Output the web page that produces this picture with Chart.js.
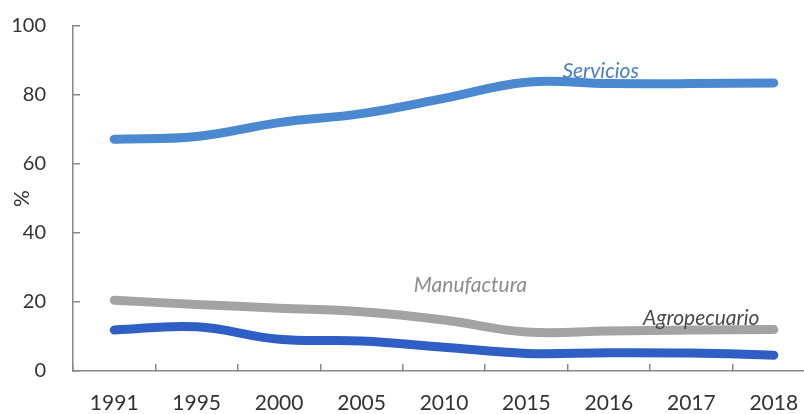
<!DOCTYPE html>
<html>
<head>
<meta charset="utf-8">
<script src="https://cdn.jsdelivr.net/npm/chart.js@4"></script>
<style>
  html, body { margin: 0; padding: 0; background: #ffffff; width: 804px; height: 414px; overflow: hidden; }
  canvas { display: block; }
</style>
</head>
<body>
<canvas id="c" width="820" height="414"></canvas>
<script>
const years = ['1991', '1995', '2000', '2005', '2010', '2015', '2016', '2017', '2018'];
const servicios = [67.2, 68.0, 72.0, 74.6, 79.0, 83.7, 83.3, 83.3, 83.5];
const manufactura = [20.5, 19.3, 18.2, 17.2, 14.8, 11.3, 11.6, 11.9, 12.0];
const agropecuario = [11.9, 12.8, 9.2, 8.7, 6.9, 5.1, 5.3, 5.2, 4.6];
const yTicks = [0, 20, 40, 60, 80, 100];
const seriesLabels = [
  { text: 'Servicios', x: 5.9, y: 87.0, color: '#4a7ebd' },
  { text: 'Manufactura', x: 4.32, y: 25.0, color: '#8c8c8c' },
  { text: 'Agropecuario', x: 7.12, y: 15.3, color: '#4a4a4a' }
];

const labelPlugin = {
  id: 'seriesLabels',
  afterDatasetsDraw(chart) {
    const ctx = chart.ctx;
    const xs = chart.scales.x, ys = chart.scales.y;
    ctx.save();
    ctx.font = 'italic 21px Lato, "Liberation Sans", sans-serif';
    ctx.textAlign = 'center';
    ctx.textBaseline = 'middle';
    seriesLabels.forEach(l => {
      ctx.fillStyle = l.color;
      ctx.fillText(l.text, xs.getPixelForValue(l.x), ys.getPixelForValue(l.y));
    });
    ctx.restore();
  }
};

const lineStyle = {
  borderWidth: 9,
  pointRadius: 0,
  pointHoverRadius: 0,
  tension: 0.4,
  borderCapStyle: 'round',
  borderJoinStyle: 'round',
  fill: false
};

new Chart(document.getElementById('c'), {
  type: 'line',
  data: {
    labels: years,
    datasets: [
      Object.assign({ label: 'Servicios', data: servicios, borderColor: '#4a89d0' }, lineStyle),
      Object.assign({ label: 'Manufactura', data: manufactura, borderColor: '#a3a3a3' }, lineStyle),
      Object.assign({ label: 'Agropecuario', data: agropecuario, borderColor: '#2f5ec4' }, lineStyle)
    ]
  },
  options: {
    responsive: false,
    animation: false,
    devicePixelRatio: 1,
    layout: { padding: { top: 26, right: 5, left: 0, bottom: 0 } },
    plugins: { legend: { display: false }, tooltip: { enabled: false }, title: { display: false } },
    scales: {
      x: {
        type: 'category',
        offset: true,
        grid: { offset: true, drawOnChartArea: false, drawTicks: true, tickLength: -7, color: '#888888', lineWidth: 1.5 },
        border: { display: true, color: '#888888', width: 1.5 },
        ticks: { color: '#333333', font: { family: 'Lato, "Liberation Sans", sans-serif', size: 21 }, padding: 27, maxRotation: 0, autoSkip: false },
        afterFit(scale) { scale.height = 43; scale.paddingLeft = 0; scale.paddingRight = 0; }
      },
      y: {
        min: 0,
        max: 100,
        afterBuildTicks(scale) { scale.ticks = yTicks.map(v => ({ value: v })); },
        grid: { drawOnChartArea: false, drawTicks: true, tickLength: -7, color: '#888888', lineWidth: 1.5 },
        border: { display: true, color: '#888888', width: 1.5 },
        ticks: { color: '#333333', font: { family: 'Lato, "Liberation Sans", sans-serif', size: 20 }, padding: 34 },
        title: { display: true, text: '%', color: '#333333', font: { family: 'Lato, "Liberation Sans", sans-serif', size: 21 }, padding: { top: 10, bottom: 0 } },
        afterFit(scale) { scale.width = 73; scale.paddingTop = 0; scale.paddingBottom = 0; }
      }
    }
  },
  plugins: [labelPlugin]
});
</script>
</body>
</html>
